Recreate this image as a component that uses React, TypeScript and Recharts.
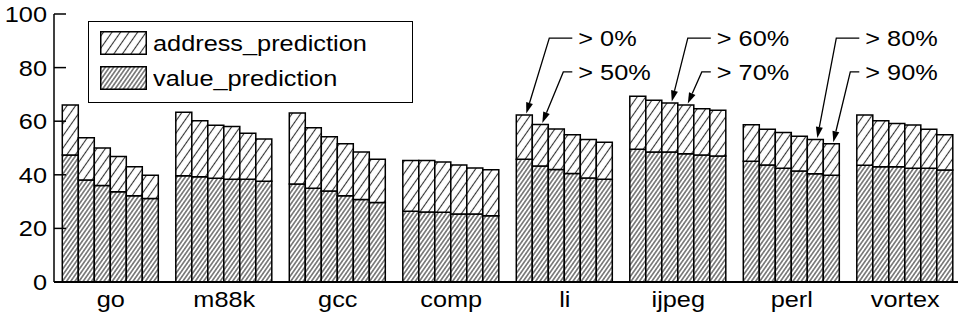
import React from 'react';
import { BarChart, Bar, XAxis, YAxis, Legend, LabelList } from 'recharts';

// ---------------- data ----------------
const categories = ['go', 'm88k', 'gcc', 'comp', 'li', 'ijpeg', 'perl', 'vortex'];
const thresholds = ['> 0%', '> 50%', '> 60%', '> 70%', '> 80%', '> 90%'];
const yTicks = [0, 20, 40, 60, 80, 100];
const legendLabels = ['address_prediction', 'value_prediction'];

// value_prediction (bottom segment), one value per threshold
const goValue = [47.4, 38.1, 36.0, 33.7, 32.2, 31.2];
const m88kValue = [39.6, 39.3, 38.7, 38.3, 38.3, 37.6];
const gccValue = [36.6, 35.0, 34.0, 32.2, 30.8, 29.7];
const compValue = [26.4, 26.1, 26.0, 25.4, 25.4, 24.7];
const liValue = [45.8, 43.3, 42.0, 40.5, 38.8, 38.3];
const ijpegValue = [49.5, 48.5, 48.5, 47.9, 47.4, 47.0];
const perlValue = [45.1, 43.7, 42.4, 41.4, 40.4, 39.8];
const vortexValue = [43.6, 43.0, 43.0, 42.4, 42.4, 41.8];

// address_prediction (top segment), one value per threshold
const goAddress = [18.6, 15.7, 14.0, 13.1, 10.8, 8.6];
const m88kAddress = [23.7, 20.9, 19.8, 19.7, 17.2, 15.8];
const gccAddress = [26.5, 22.6, 20.2, 19.4, 17.7, 16.1];
const compAddress = [18.9, 19.2, 18.8, 18.3, 17.1, 17.2];
const liAddress = [16.5, 15.5, 15.1, 14.4, 14.4, 13.8];
const ijpegAddress = [19.8, 19.3, 18.3, 18.1, 17.2, 17.1];
const perlAddress = [13.6, 13.3, 13.4, 13.0, 12.8, 11.8];
const vortexAddress = [18.7, 17.2, 16.1, 16.2, 14.6, 13.1];

const valuePrediction = [goValue, m88kValue, gccValue, compValue, liValue, ijpegValue, perlValue, vortexValue];
const addressPrediction = [goAddress, m88kAddress, gccAddress, compAddress, liAddress, ijpegAddress, perlAddress, vortexAddress];

// which benchmark each threshold annotation points to
const annotatedCategory = ['li', 'li', 'ijpeg', 'ijpeg', 'perl', 'perl'];

// ---------------- layout constants ----------------
const CHART_W = 964;
const CHART_H = 320;
const MARGIN = { top: 14, right: 2, bottom: 0, left: 0 };
const Y_AXIS_W = 54;
const PLOT_LEFT = MARGIN.left + Y_AXIS_W;
const PLOT_RIGHT = CHART_W - MARGIN.right;
const FONT = '"Liberation Sans", Arial, Helvetica, sans-serif';
const FONT_SIZE = 22;
const SX = 1.15; // horizontal stretch of the lettering
const ANN_ROW_VALUES = [91, 78.4];
const ANN_DX = [54, 47, 50];

const rows = categories.map((name, c) => {
  const row: Record<string, any> = { name };
  thresholds.forEach((_, k) => {
    row['v' + k] = valuePrediction[c][k];
    row['a' + k] = addressPrediction[c][k];
  });
  return row;
});

const SText = ({ x, y, anchor = 'start', children }: any) => (
  <text
    transform={`translate(${x},${y}) scale(${SX},1)`}
    x={0}
    y={0}
    textAnchor={anchor}
    fontSize={FONT_SIZE}
    fontFamily={FONT}
    fill="#000"
  >
    {children}
  </text>
);

const LeftTick = (p: any) => (
  <g>
    <line x1={PLOT_LEFT} x2={PLOT_LEFT + 12} y1={p.y} y2={p.y} stroke="#000" strokeWidth={1.5} />
    <SText x={PLOT_LEFT - 7} y={p.y + 8} anchor="end">
      {p.payload.value}
    </SText>
  </g>
);

const RightTick = (p: any) => (
  <line x1={PLOT_RIGHT - 12} x2={PLOT_RIGHT} y1={p.y} y2={p.y} stroke="#000" strokeWidth={1.5} />
);

const BottomTick = (p: any) => (
  <SText x={p.x} y={p.y + 15.5} anchor="middle">
    {p.payload.value}
  </SText>
);

const renderAnnotation = (props: any, k: number) => {
  const idx = props.index;
  if (categories[idx] !== annotatedCategory[k]) return null;
  const vb = props.viewBox || {};
  const x = Number(props.x ?? vb.x);
  const y = Number(props.y ?? vb.y);
  const w = Number(props.width ?? vb.width);
  const h = Number(props.height ?? vb.height);
  const a = addressPrediction[idx][k];
  const v = valuePrediction[idx][k];
  const ppu = h / a;
  const y0 = y + h + v * ppu;
  const upper = k % 2 === 0;
  const rowY = y0 - (upper ? ANN_ROW_VALUES[0] : ANN_ROW_VALUES[1]) * ppu;
  const cx = x + w / 2;
  const pair = Math.floor(k / 2);
  const textX = cx + ANN_DX[pair] - (upper ? 0 : w);
  const elbowX = textX - (upper ? 29 : 15);
  const tipX = cx + 2;
  const tipY = y - 1.5;
  const dx = tipX - elbowX;
  const dy = tipY - rowY;
  const len = Math.sqrt(dx * dx + dy * dy);
  const ux = dx / len;
  const uy = dy / len;
  const L = 11;
  const hw = 3.5;
  const bx = tipX - ux * L;
  const by = tipY - uy * L;
  const pts = `${tipX},${tipY} ${bx - uy * hw},${by + ux * hw} ${bx + uy * hw},${by - ux * hw}`;
  return (
    <g>
      <polyline
        points={`${textX - 6},${rowY} ${elbowX},${rowY} ${bx},${by}`}
        fill="none"
        stroke="#000"
        strokeWidth={1.3}
      />
      <polygon points={pts} fill="#000" />
      <SText x={textX} y={rowY + 8}>
        {thresholds[k]}
      </SText>
    </g>
  );
};

const legendFills = ['url(#addrHatch)', 'url(#valHatch)'];

const LegendBox = () => (
  <div
    style={{
      boxSizing: 'border-box',
      width: 325,
      height: 82,
      border: '1.5px solid #000',
      background: '#fff',
      position: 'relative',
      fontFamily: FONT,
    }}
  >
    {legendLabels.map((label, i) => (
      <div
        key={label}
        style={{
          position: 'absolute',
          left: 10.5,
          top: 9 + i * 34.5,
          height: 24,
          display: 'flex',
          alignItems: 'center',
          whiteSpace: 'nowrap',
        }}
      >
        <svg width={47} height={24} style={{ display: 'block' }}>
          <rect x={0.75} y={0.75} width={45.5} height={22.5} fill={legendFills[i]} stroke="#000" strokeWidth={1.5} />
        </svg>
        <span
          style={{
            marginLeft: 6,
            fontSize: FONT_SIZE,
            lineHeight: '24px',
            color: '#000',
            display: 'inline-block',
            transform: `scaleX(${SX})`,
            transformOrigin: 'left center',
            position: 'relative',
            top: 1,
          }}
        >
          {label}
        </span>
      </div>
    ))}
  </div>
);

export default function App() {
  const bars: React.ReactNode[] = [];
  thresholds.forEach((_, k) => {
    bars.push(
      <Bar
        key={'v' + k}
        dataKey={'v' + k}
        stackId={'s' + k}
        yAxisId="left"
        fill="url(#valHatch)"
        stroke="#000"
        strokeWidth={1.5}
        isAnimationActive={false}
      />
    );
    bars.push(
      <Bar
        key={'a' + k}
        dataKey={'a' + k}
        stackId={'s' + k}
        yAxisId="left"
        fill="url(#addrHatch)"
        stroke="#000"
        strokeWidth={1.5}
        isAnimationActive={false}
      >
        <LabelList dataKey={'a' + k} content={(p: any) => renderAnnotation(p, k)} />
      </Bar>
    );
  });

  return (
    <div
      style={{
        position: 'fixed',
        left: 0,
        top: 0,
        width: 958,
        height: 320,
        overflow: 'hidden',
        background: '#fff',
        fontFamily: FONT,
      }}
    >
      <svg width={0} height={0} style={{ position: 'absolute' }}>
        <defs>
          <pattern id="addrHatch" patternUnits="userSpaceOnUse" width={7} height={7} patternTransform="rotate(35)">
            <rect width={7} height={7} fill="#fff" />
            <line x1={3.5} y1={0} x2={3.5} y2={7} stroke="#333" strokeWidth={1.1} />
          </pattern>
          <pattern id="valHatch" patternUnits="userSpaceOnUse" width={3.4} height={3.4} patternTransform="rotate(35)">
            <rect width={3.4} height={3.4} fill="#fff" />
            <line x1={1.7} y1={0} x2={1.7} y2={3.4} stroke="#444" strokeWidth={1.2} />
          </pattern>
        </defs>
      </svg>
      <BarChart
        width={CHART_W}
        height={CHART_H}
        data={rows}
        margin={MARGIN}
        barCategoryGap={8.3}
        barGap={0}
      >
        <XAxis
          dataKey="name"
          height={38}
          interval={0}
          axisLine={{ stroke: '#000', strokeWidth: 2 }}
          tickLine={false}
          tickMargin={3}
          tick={BottomTick}
        />
        <XAxis
          xAxisId="top"
          orientation="top"
          dataKey="name"
          height={0}
          tick={false}
          tickLine={false}
          axisLine={{ stroke: '#222', strokeWidth: 1.5 }}
        />
        <YAxis
          yAxisId="left"
          width={Y_AXIS_W}
          domain={[0, 100]}
          ticks={yTicks}
          interval={0}
          axisLine={{ stroke: '#000', strokeWidth: 1.5 }}
          tickLine={false}
          tick={LeftTick}
        />
        <YAxis
          yAxisId="right"
          orientation="right"
          width={0}
          domain={[0, 100]}
          ticks={yTicks}
          interval={0}
          axisLine={{ stroke: '#000', strokeWidth: 1.5 }}
          tickLine={false}
          tick={RightTick}
        />
        <Legend
          layout="horizontal"
          verticalAlign="middle"
          align="center"
          wrapperStyle={{ left: 88, top: 21, width: 325, height: 82 }}
          content={() => <LegendBox />}
        />
        {bars}
      </BarChart>
    </div>
  );
}
